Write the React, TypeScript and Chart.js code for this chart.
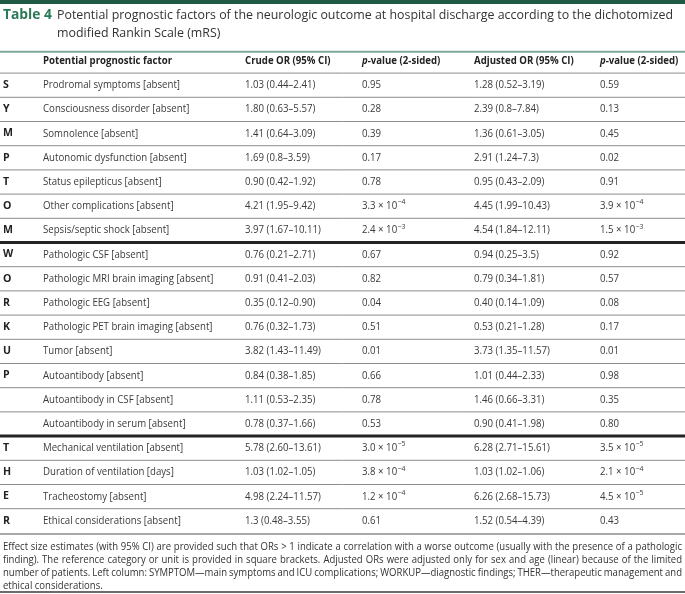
import React, { useEffect, useRef } from 'react';
import { Chart, registerables } from 'chart.js';

Chart.register(...registerables);

const titleLabel = 'Table 4';
const captionLines = [
  'Potential prognostic factors of the neurologic outcome at hospital discharge according to the dichotomized',
  'modified Rankin Scale (mRS)',
];
const headers = ['', 'Potential prognostic factor', 'Crude OR (95% CI)', '*p*-value (2-sided)', 'Adjusted OR (95% CI)', '*p*-value (2-sided)'];
const sideLetters = ['S', 'Y', 'M', 'P', 'T', 'O', 'M', 'W', 'O', 'R', 'K', 'U', 'P', '', '', 'T', 'H', 'E', 'R'];
const factors = [
  'Prodromal symptoms [absent]',
  'Consciousness disorder [absent]',
  'Somnolence [absent]',
  'Autonomic dysfunction [absent]',
  'Status epilepticus [absent]',
  'Other complications [absent]',
  'Sepsis/septic shock [absent]',
  'Pathologic CSF [absent]',
  'Pathologic MRI brain imaging [absent]',
  'Pathologic EEG [absent]',
  'Pathologic PET brain imaging [absent]',
  'Tumor [absent]',
  'Autoantibody [absent]',
  'Autoantibody in CSF [absent]',
  'Autoantibody in serum [absent]',
  'Mechanical ventilation [absent]',
  'Duration of ventilation [days]',
  'Tracheostomy [absent]',
  'Ethical considerations [absent]',
];
const crudeOR = [
  '1.03 (0.44–2.41)', '1.80 (0.63–5.57)', '1.41 (0.64–3.09)', '1.69 (0.8–3.59)', '0.90 (0.42–1.92)',
  '4.21 (1.95–9.42)', '3.97 (1.67–10.11)', '0.76 (0.21–2.71)', '0.91 (0.41–2.03)', '0.35 (0.12–0.90)',
  '0.76 (0.32–1.73)', '3.82 (1.43–11.49)', '0.84 (0.38–1.85)', '1.11 (0.53–2.35)', '0.78 (0.37–1.66)',
  '5.78 (2.60–13.61)', '1.03 (1.02–1.05)', '4.98 (2.24–11.57)', '1.3 (0.48–3.55)',
];
const crudeP = [
  '0.95', '0.28', '0.39', '0.17', '0.78', '3.3 × 10^−4', '2.4 × 10^−3', '0.67', '0.82', '0.04',
  '0.51', '0.01', '0.66', '0.78', '0.53', '3.0 × 10^−5', '3.8 × 10^−4', '1.2 × 10^−4', '0.61',
];
const adjustedOR = [
  '1.28 (0.52–3.19)', '2.39 (0.8–7.84)', '1.36 (0.61–3.05)', '2.91 (1.24–7.3)', '0.95 (0.43–2.09)',
  '4.45 (1.99–10.43)', '4.54 (1.84–12.11)', '0.94 (0.25–3.5)', '0.79 (0.34–1.81)', '0.40 (0.14–1.09)',
  '0.53 (0.21–1.28)', '3.73 (1.35–11.57)', '1.01 (0.44–2.33)', '1.46 (0.66–3.31)', '0.90 (0.41–1.98)',
  '6.28 (2.71–15.61)', '1.03 (1.02–1.06)', '6.26 (2.68–15.73)', '1.52 (0.54–4.39)',
];
const adjustedP = [
  '0.59', '0.13', '0.45', '0.02', '0.91', '3.9 × 10^−4', '1.5 × 10^−3', '0.92', '0.57', '0.08',
  '0.17', '0.01', '0.98', '0.35', '0.80', '3.5 × 10^−5', '2.1 × 10^−4', '4.5 × 10^−5', '0.43',
];
const sectionEnds = [6, 14];
const footnoteLines = [
  'Effect size estimates (with 95% CI) are provided such that ORs > 1 indicate a correlation with a worse outcome (usually with the presence of a pathologic',
  'finding). The reference category or unit is provided in square brackets. Adjusted ORs were adjusted only for sex and age (linear) because of the limited',
  'number of patients. Left column: SYMPTOM—main symptoms and ICU complications; WORKUP—diagnostic findings; THER—therapeutic management and',
  'ethical considerations.',
];

const FONT = '"Open Sans", "Noto Sans", sans-serif';
const W = 685;
const H = 594;
const columnX = [3, 43, 245, 362, 474, 600];

function fitScale(ctx: CanvasRenderingContext2D, font: string, sample: string, target: number) {
  ctx.font = font;
  return target / ctx.measureText(sample).width;
}

function drawScaled(ctx: CanvasRenderingContext2D, text: string, x: number, y: number, font: string, color: string, sx: number) {
  ctx.save();
  ctx.font = font;
  ctx.fillStyle = color;
  ctx.translate(x, y);
  ctx.scale(sx, 1);
  ctx.fillText(text, 0, 0);
  const w = ctx.measureText(text).width * sx;
  ctx.restore();
  return w;
}

const tablePlugin = {
  id: 'tablePlugin',
  afterDraw(chart: any) {
    const { ctx } = chart;
    const x = chart.scales.x;
    const y = chart.scales.y;
    ctx.save();
    ctx.textBaseline = 'middle';
    ctx.textAlign = 'left';

    // top bar
    ctx.fillStyle = '#1f5a44';
    ctx.fillRect(0, 0, W, 4);

    // caption
    const capFont = `13.5px ${FONT}`;
    const capBold = `bold 13.5px ${FONT}`;
    const capSx = fitScale(ctx, capFont, captionLines[0], 616);
    const titleSx = fitScale(ctx, capBold, titleLabel, 49);
    drawScaled(ctx, titleLabel, 3, 15, capBold, '#2a7a58', titleSx);
    drawScaled(ctx, captionLines[0], 57, 15, capFont, '#333', capSx);
    drawScaled(ctx, captionLines[1], 57, 33, capFont, '#333', capSx);

    // header / letter text
    const hBold = `bold 10px ${FONT}`;
    const hItalicBold = `italic bold 10px ${FONT}`;
    const hSx = fitScale(ctx, hBold, headers[1], 129);

    // body text
    const tFont = `10.5px ${FONT}`;
    const sSup = `7.5px ${FONT}`;
    const tSx = fitScale(ctx, tFont, factors[0], 137);

    const px = (c: number) => x.getPixelForValue(columnX[c]);

    // rules
    const line = (yy: number, color: string, lw: number) => {
      ctx.strokeStyle = color;
      ctx.lineWidth = lw;
      ctx.beginPath();
      ctx.moveTo(x.left, yy);
      ctx.lineTo(x.right, yy);
      ctx.stroke();
    };
    line(y.getPixelForValue(-0.38), '#7fa89a', 2);
    line(y.getPixelForValue(0.5), '#8c8c8c', 1);
    for (let i = 0; i < factors.length; i++) {
      const yy = y.getPixelForValue(i + 1.5);
      if (sectionEnds.includes(i)) line(yy, '#242424', 3);
      else if (i === factors.length - 1) line(yy + 1, '#a8a8a8', 2);
      else line(yy, '#8c8c8c', 1);
    }

    // header row (index 0)
    const hy = y.getPixelForValue(0);
    headers.forEach((h, c) => {
      if (!h) return;
      let cx = px(c);
      if (h.startsWith('*p*')) {
        cx += drawScaled(ctx, 'p', cx, hy, hItalicBold, '#222', hSx);
        drawScaled(ctx, h.slice(3), cx, hy, hBold, '#222', hSx);
      } else {
        drawScaled(ctx, h, cx, hy, hBold, '#222', hSx);
      }
    });

    const drawValue = (txt: string, cx: number, cy: number) => {
      const parts = txt.split('^');
      const w = drawScaled(ctx, parts[0], cx, cy, tFont, '#3a3a3a', tSx);
      if (parts[1]) drawScaled(ctx, parts[1], cx + w + 0.5, cy - 4, sSup, '#3a3a3a', tSx);
    };

    for (let i = 0; i < factors.length; i++) {
      const cy = y.getPixelForValue(i + 1);
      if (sideLetters[i]) drawScaled(ctx, sideLetters[i], px(0), cy, hBold, '#222', hSx * 1.1);
      drawValue(factors[i], px(1), cy);
      drawValue(crudeOR[i], px(2), cy);
      drawValue(crudeP[i], px(3), cy);
      drawValue(adjustedOR[i], px(4), cy);
      drawValue(adjustedP[i], px(5), cy);
    }

    // footnote (justified)
    const fFont = `10px ${FONT}`;
    const fSx = fitScale(ctx, fFont, footnoteLines[0], 672);
    const left = 3;
    const right = 682;
    const fy = [547, 560, 573, 586];
    footnoteLines.forEach((ln, li) => {
      if (li === footnoteLines.length - 1) {
        drawScaled(ctx, ln, left, fy[li], fFont, '#333', fSx);
        return;
      }
      const words = ln.split(' ');
      ctx.font = fFont;
      const widths = words.map((w) => ctx.measureText(w).width * fSx);
      const total = widths.reduce((a, b) => a + b, 0);
      const gap = (right - left - total) / (words.length - 1);
      let cx = left;
      words.forEach((w, wi) => {
        drawScaled(ctx, w, cx, fy[li], fFont, '#333', fSx);
        cx += widths[wi] + gap;
      });
    });

    // bottom rule
    ctx.strokeStyle = '#3a3a3a';
    ctx.lineWidth = 1.5;
    ctx.beginPath();
    ctx.moveTo(0, 592);
    ctx.lineTo(W, 592);
    ctx.stroke();

    ctx.restore();
  },
};

export default function App() {
  const ref = useRef<HTMLCanvasElement | null>(null);
  useEffect(() => {
    if (!ref.current) return;
    const rowKeys = ['header', ...factors];
    const chart = new Chart(ref.current, {
      type: 'scatter',
      data: { datasets: [{ data: [], pointRadius: 0 }] },
      options: {
        animation: false,
        responsive: false,
        events: [],
        layout: { padding: { top: 48.9, bottom: H - 532.9, left: 0, right: 0 } },
        plugins: { legend: { display: false }, tooltip: { enabled: false } },
        scales: {
          x: { type: 'linear', min: 0, max: W, display: false },
          y: { type: 'linear', min: -0.5, max: rowKeys.length - 0.5, reverse: true, display: false },
        },
      },
      plugins: [tablePlugin],
    });
    return () => chart.destroy();
  }, []);
  return (
    <div style={{ position: 'fixed', left: 0, top: 0, width: W, height: H, background: '#fff' }}>
      <canvas ref={ref} width={W} height={H} style={{ width: W, height: H }} />
    </div>
  );
}
